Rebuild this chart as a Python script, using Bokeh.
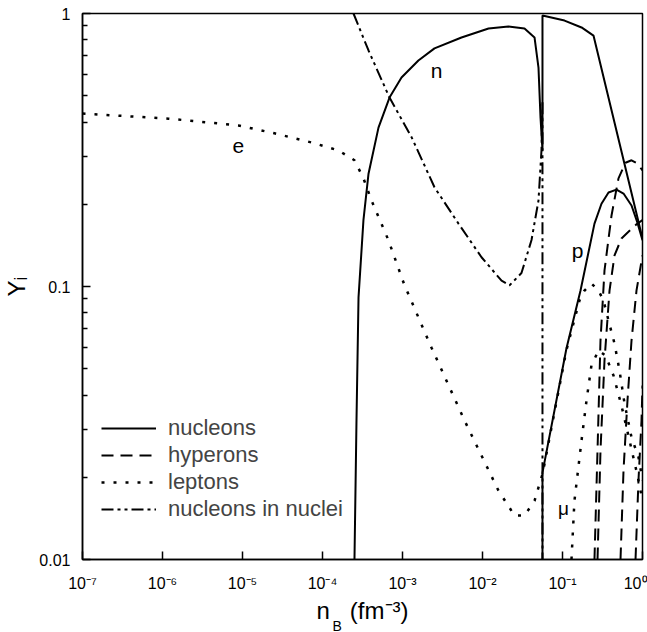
import math
from bokeh.plotting import figure
from bokeh.models import (Range1d, FixedTicker, CustomJSTickFormatter, Label,
                          Legend, LegendItem, Title)
from bokeh.embed import file_html
from bokeh.resources import INLINE

# ---------------- data ----------------
# nucleons: neutrons
n_x = [2.51e-4, 2.66e-4, 2.82e-4, 3.25e-4, 3.76e-4, 5.01e-4, 6.88e-4, 9.72e-4,
       1.58e-3, 2.51e-3, 5.46e-3, 0.0119, 0.0211, 0.0335, 0.0447, 0.0501,
       0.0531, 0.0562, 0.0562, 0.106, 0.173, 0.244, 1.0]
n_y = [0.01, 0.0323, 0.0912, 0.175, 0.259, 0.382, 0.492, 0.583,
       0.673, 0.745, 0.817, 0.881, 0.896, 0.881, 0.817, 0.634,
       0.416, 0.315, 0.983, 0.942, 0.889, 0.830, 0.150]
# nucleons: protons
p_x = [0.0562, 0.0562, 0.112, 0.168, 0.251, 0.307, 0.376, 0.473, 0.579,
       0.729, 0.866, 1.0]
p_y = [0.01, 0.0208, 0.0593, 0.0967, 0.170, 0.201, 0.221, 0.2265, 0.219,
       0.198, 0.171, 0.1476]
# hyperons
h1_x = [0.251, 0.274, 0.2985, 0.335, 0.41, 0.501, 0.613, 0.729, 0.866, 1.0]
h1_y = [0.01, 0.0251, 0.0634, 0.1146, 0.182, 0.249, 0.284, 0.29, 0.282, 0.266]
h2_x = [0.274, 0.2985, 0.335, 0.387, 0.447, 0.546, 0.688, 0.841, 1.0]
h2_y = [0.01, 0.0251, 0.0536, 0.0966, 0.130, 0.150, 0.160, 0.169, 0.175]
h3_x = [0.531, 0.579, 0.649, 0.729, 0.841, 1.0]
h3_y = [0.01, 0.0212, 0.0382, 0.0634, 0.0966, 0.130]
h4_x = [0.818, 0.891, 0.972, 1.0]
h4_y = [0.01, 0.0195, 0.0323, 0.0434]
# leptons: electrons
e_x = [1e-7, 1.19e-6, 8.91e-6, 2.51e-5, 7.29e-5, 1.58e-4, 2.51e-4, 3.25e-4,
       4.10e-4, 6.68e-4, 1.06e-3, 2.30e-3, 5.96e-3, 0.0158, 0.0251, 0.0335,
       0.0447, 0.0546, 0.0562, 0.112, 0.163, 0.188, 0.230, 0.282, 0.3255,
       0.376, 0.447, 0.516, 0.596, 0.729, 0.891, 1.0]
e_y = [0.430, 0.412, 0.389, 0.364, 0.337, 0.315, 0.290, 0.249,
       0.2065, 0.1476, 0.101, 0.0598, 0.0323, 0.0179, 0.0145, 0.0145,
       0.0164, 0.020, 0.0205, 0.0585, 0.0889, 0.0966, 0.1026, 0.0966, 0.0889,
       0.075, 0.0618, 0.0492, 0.0373, 0.028, 0.0237, 0.0195]
# leptons: muons
mu_x = [0.1295, 0.141, 0.173, 0.1995, 0.230, 0.282, 0.345, 0.434, 0.546,
        0.688, 0.866, 1.0]
mu_y = [0.01, 0.0164, 0.0273, 0.0382, 0.0514, 0.0583, 0.0559, 0.0472, 0.0366,
        0.0273, 0.0203, 0.0164]
# nucleons in nuclei
nuc_x = [2.44e-4, 3.76e-4, 6.88e-4, 1.30e-3, 2.51e-3, 5.01e-3, 9.72e-3,
         0.0173, 0.0218, 0.0307, 0.041, 0.0501, 0.0546, 0.0562, 0.0562]
nuc_y = [1.0, 0.732, 0.492, 0.352, 0.231, 0.170, 0.128,
         0.105, 0.101, 0.112, 0.148, 0.2065, 0.315, 0.480, 0.01]

x_ticks = [1e-7, 1e-6, 1e-5, 1e-4, 1e-3, 1e-2, 1e-1, 1.0]
y_ticks = [0.01, 0.1, 1]
y_minor = [k * 0.01 for k in range(2, 10)] + [k * 0.1 for k in range(2, 10)]
legend_labels = ["nucleons", "hyperons", "leptons", "nucleons in nuclei"]
x_title_main = "n\u00a0\u00a0\u00a0(fm\u207b\u00b3)"
x_title_sub = "B"
y_title = "Y\u1d62"

FONT = "Liberation Sans"

p = figure(width=647, height=632, x_axis_type="log", y_axis_type="log",
           x_range=Range1d(1e-7, 1), y_range=Range1d(0.01, 1),
           output_backend="svg", toolbar_location=None,
           min_border_left=81, min_border_right=5, min_border_top=13,
           min_border_bottom=73)
p.grid.visible = False
p.background_fill_color = "white"
p.border_fill_color = "white"
p.outline_line_color = "black"
p.outline_line_width = 1.5

# axes
xa = p.xaxis[0]
xa.ticker = FixedTicker(ticks=x_ticks, minor_ticks=[])
xa.formatter = CustomJSTickFormatter(code="""
const sup = {"-": "\u207b", "0": "\u2070", "1": "\u00b9", "2": "\u00b2",
             "3": "\u00b3", "4": "\u2074", "5": "\u2075", "6": "\u2076",
             "7": "\u2077", "8": "\u2078", "9": "\u2079"};
const e = Math.round(Math.log10(tick)).toString();
return "10" + e.split("").map(c => sup[c]).join("");
""")
ya = p.yaxis[0]
ya.ticker = FixedTicker(ticks=y_ticks, minor_ticks=y_minor)
ya.formatter = CustomJSTickFormatter(code="return tick.toString()")
for ax in (xa, ya):
    ax.axis_line_width = 1.5
    ax.major_tick_line_width = 1.5
    ax.minor_tick_line_width = 1.5
    ax.major_tick_in = 8
    ax.major_tick_out = 0
    ax.minor_tick_in = 5
    ax.minor_tick_out = 0
    ax.major_label_text_font = FONT
    ax.major_label_text_font_size = "16px"
    ax.major_label_text_color = "black"
    ax.axis_label_text_font = FONT
    ax.axis_label_text_font_size = "24px"
    ax.axis_label_text_font_style = "normal"
    ax.axis_label_text_color = "black"
ya.major_label_standoff = 12
xa.major_label_standoff = 15
xa.axis_label = x_title_main
xa.axis_label_standoff = 2
ya.axis_label = y_title
ya.axis_label_standoff = 6

p.add_layout(Title(text=x_title_sub, align="left", offset=250,
                   vertical_align="top", standoff=-17, text_font=FONT,
                   text_font_size="14px", text_font_style="normal",
                   text_color="black"), "below")

LW = 2
r_n = p.line(n_x, n_y, line_color="black", line_width=LW)
p.line(p_x, p_y, line_color="black", line_width=LW)
HD = "12 7"
r_h = p.line(h1_x, h1_y, line_color="black", line_width=LW, line_dash=HD)
p.line(h2_x, h2_y, line_color="black", line_width=LW, line_dash=HD)
p.line(h3_x, h3_y, line_color="black", line_width=LW, line_dash=HD)
p.line(h4_x, h4_y, line_color="black", line_width=LW, line_dash=HD)
LD = "3 9"
r_e = p.line(e_x, e_y, line_color="black", line_width=2.5, line_dash=LD)
p.line(mu_x, mu_y, line_color="black", line_width=2.5, line_dash=LD)
r_nuc = p.line(nuc_x, nuc_y, line_color="black", line_width=LW,
               line_dash="12 4 3 4 3 4")

legend = Legend(items=[LegendItem(label=legend_labels[0], renderers=[r_n]),
                       LegendItem(label=legend_labels[1], renderers=[r_h]),
                       LegendItem(label=legend_labels[2], renderers=[r_e]),
                       LegendItem(label=legend_labels[3], renderers=[r_nuc])],
                location=(19, 37), glyph_width=55, glyph_height=20,
                label_standoff=12, spacing=1, padding=0, margin=0,
                border_line_alpha=0, background_fill_alpha=0,
                label_text_font=FONT, label_text_font_size="22px")
p.add_layout(legend)

# curve labels
def lab(x, y, t, size="21px"):
    p.add_layout(Label(x=x, y=y, text=t, text_align="center",
                       text_baseline="alphabetic", text_font=FONT,
                       text_font_size=size, text_color="black"))

lab(2.66e-3, 0.618, "n")
lab(8.9e-6, 0.326, "e")
lab(0.154, 0.1355, "p")
lab(0.103, 0.0154, "μ", "19px")

open("out.html", "w", encoding="utf-8").write(file_html(p, INLINE))
